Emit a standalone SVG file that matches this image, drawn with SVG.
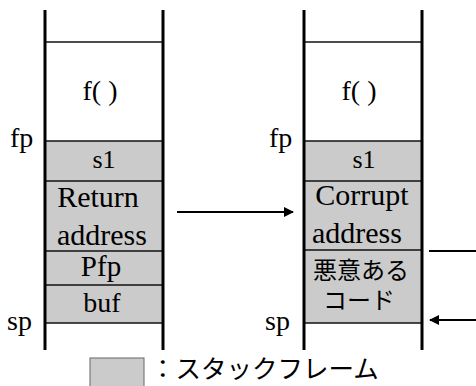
<svg xmlns="http://www.w3.org/2000/svg" width="476" height="386" viewBox="0 0 476 386">
  <style>
    .wall { stroke: #000; stroke-width: 3; fill: none; }
    .sep { stroke: #111; stroke-width: 1.5; fill: none; }
    .frame { fill: #cbcbcb; stroke: none; }
    .t { font-family: "Liberation Serif", "Times New Roman", serif; fill: #000; text-anchor: middle; }
    .lbl { font-family: "Liberation Serif", "Times New Roman", serif; fill: #000; font-size: 28px; }
    .jp { font-family: "Noto Sans CJK JP", "Noto Sans", sans-serif; fill: #000; }
    .conn { stroke: #000; stroke-width: 2; fill: none; }
  </style>
  <defs>
    <marker id="head" viewBox="0 0 10 10" refX="9" refY="5" markerWidth="5" markerHeight="5" orient="auto" markerUnits="strokeWidth">
      <path d="M0,0 L10,5 L0,10 z" fill="#000"/>
    </marker>
  </defs>

  <rect width="476" height="386" fill="#fff"/>

  <!-- stack before the overflow -->
  <g id="stack-before">
    <rect class="frame" x="45" y="141" width="118" height="182"/>
    <line class="sep" x1="45" y1="42" x2="163" y2="42"/>
    <line class="sep" x1="45" y1="141" x2="163" y2="141"/>
    <line class="sep" x1="45" y1="181" x2="163" y2="181"/>
    <line class="sep" x1="45" y1="251" x2="163" y2="251"/>
    <line class="sep" x1="45" y1="285" x2="163" y2="285"/>
    <line class="sep" x1="45" y1="323" x2="163" y2="323"/>
    <line class="wall" x1="45" y1="10" x2="45" y2="350"/>
    <line class="wall" x1="163" y1="10" x2="163" y2="350"/>
    <g id="before-f"><text class="t" x="100" y="100" font-size="28">f( )</text></g>
    <g id="before-s1"><text class="t" x="104" y="168" font-size="26">s1</text></g>
    <g id="before-ret">
      <text class="t" x="98" y="207" font-size="30">Return</text>
      <text class="t" x="102" y="245" font-size="30">address</text>
    </g>
    <g id="before-pfp"><text class="t" x="101" y="276" font-size="29">Pfp</text></g>
    <g id="before-buf"><text class="t" x="102" y="312" font-size="28">buf</text></g>
    <text class="lbl" x="10" y="147">fp</text>
    <text class="lbl" x="7" y="330">sp</text>
  </g>

  <!-- stack after the overflow -->
  <g id="stack-after">
    <rect class="frame" x="304" y="141" width="118" height="182"/>
    <line class="sep" x1="304" y1="42" x2="422" y2="42"/>
    <line class="sep" x1="304" y1="141" x2="422" y2="141"/>
    <line class="sep" x1="304" y1="181" x2="422" y2="181"/>
    <line class="sep" x1="304" y1="250" x2="422" y2="250"/>
    <line class="sep" x1="304" y1="323" x2="422" y2="323"/>
    <line class="wall" x1="304" y1="10" x2="304" y2="350"/>
    <line class="wall" x1="422" y1="10" x2="422" y2="350"/>
    <g id="after-f"><text class="t" x="359" y="100" font-size="28">f( )</text></g>
    <g id="after-s1"><text class="t" x="364" y="168" font-size="26">s1</text></g>
    <g id="after-ret">
      <text class="t" x="362" y="205" font-size="30">Corrupt</text>
      <text class="t" x="357" y="243" font-size="30">address</text>
    </g>
    <g id="after-code">
      <text class="jp" font-size="24" text-anchor="middle"><tspan x="361" y="279">悪意ある</tspan><tspan x="359" y="309">コード</tspan></text>
    </g>
    <text class="lbl" x="269" y="147">fp</text>
    <text class="lbl" x="265" y="330">sp</text>
  </g>

  <!-- connectors -->
  <g id="connectors">
    <line class="conn" x1="177" y1="212" x2="293" y2="212" marker-end="url(#head)"/>
    <line class="conn" x1="429" y1="251" x2="476" y2="251"/>
    <line class="conn" x1="476" y1="320" x2="430" y2="320" marker-end="url(#head)"/>
  </g>

  <!-- legend -->
  <g id="legend">
    <rect x="90" y="358" width="54" height="40" fill="#cbcbcb" stroke="#666" stroke-width="1"/>
    <text class="jp" x="150" y="378" font-size="25.5">：スタックフレーム</text>
  </g>
</svg>
